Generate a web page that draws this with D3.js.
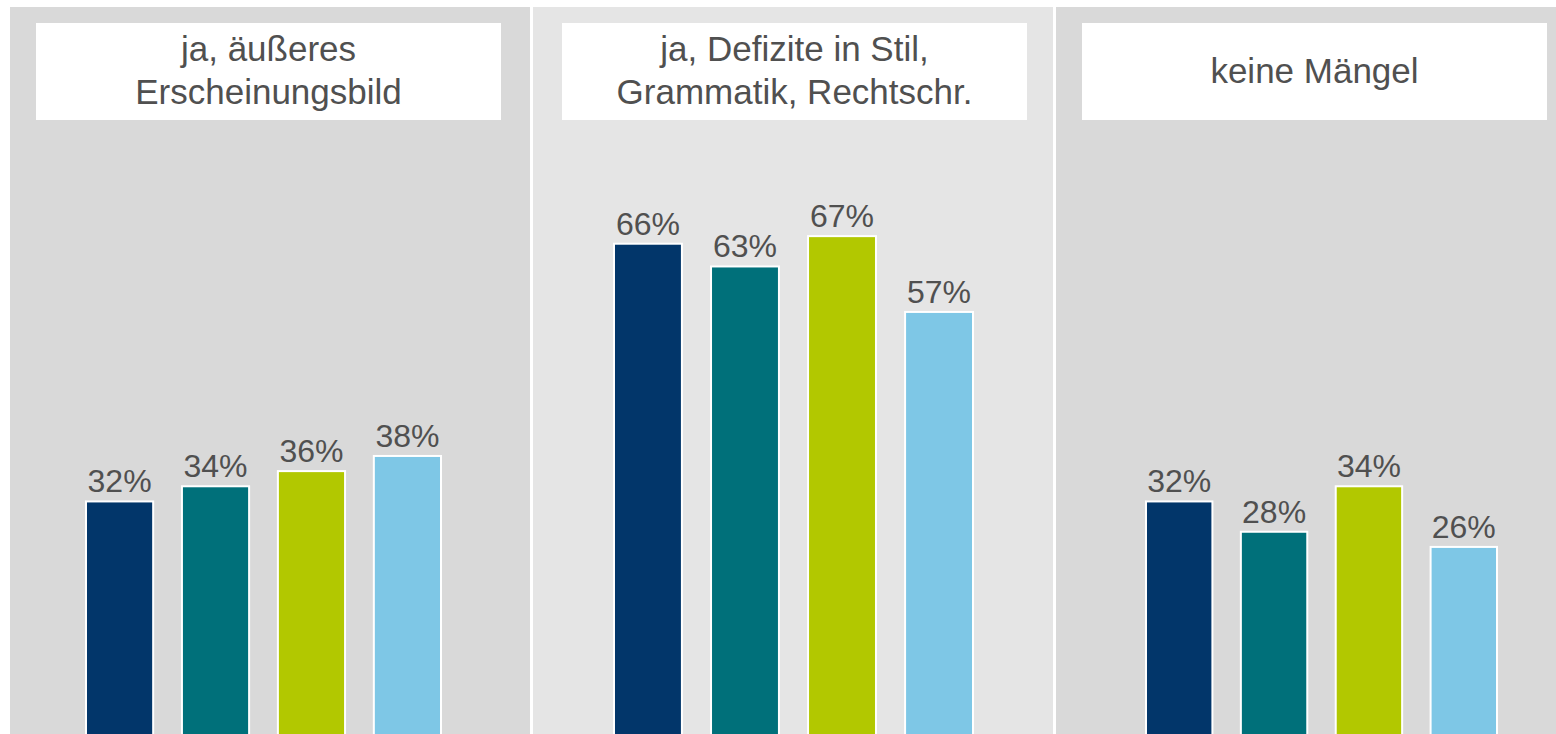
<!DOCTYPE html>
<html>
<head>
<meta charset="utf-8">
<script src="https://cdn.jsdelivr.net/npm/d3@7"></script>
<style>
  body { margin: 0; background: #fff; }
  svg text { font-family: "Liberation Sans", Arial, sans-serif; fill: #505050; }
</style>
</head>
<body>
<svg id="canvas" width="1556" height="734"></svg>
<script>
let panelTitles = [
    ['ja, äußeres', 'Erscheinungsbild'],
    ['ja, Defizite in Stil,', 'Grammatik, Rechtschr.'],
    ['keine Mängel']
];
let groups = ['g1', 'g2', 'g3', 'g4'];
let colors = ['#02366a', '#00707a', '#b2c800', '#7ec7e6'];

let aeusseres = [32, 34, 36, 38];
let defizite = [66, 63, 67, 57];
let keineMaengel = [32, 28, 34, 26];
let panelValues = [aeusseres, defizite, keineMaengel];

let panelFills = ['#d9d9d9', '#e5e5e5', '#d9d9d9'];

let canvas = d3.select('#canvas');

let panelX = d3.scaleBand()
    .domain([0, 1, 2])
    .range([10, 1579]);

let y = d3.scaleLinear()
    .domain([0, 100])
    .range([744, -14]);

// bars and title boxes sit a bit differently in each panel
let barRanges = [[76, 431], [81, 440], [90, 441]];
let boxOffsets = [26, 29, 26];

let drawPanel = (values, i) => {
    let x0 = panelX(i);
    let g = canvas.append('g').attr('transform', 'translate(' + x0 + ',0)');

    g.append('rect')
        .attr('x', 0).attr('y', 7)
        .attr('width', i == 2 ? 1556 - x0 : panelX.bandwidth() - 3).attr('height', 727)
        .attr('fill', panelFills[i]);

    let bx = boxOffsets[i];
    g.append('rect')
        .attr('x', bx).attr('y', 23)
        .attr('width', 465).attr('height', 97)
        .attr('fill', '#fff');

    let lines = panelTitles[i];
    let lh = 43;
    let startY = 70.5 - (lines.length - 1) * lh / 2;
    g.selectAll('text.title')
        .data(lines)
        .enter()
        .append('text')
        .attr('class', 'title')
        .attr('x', bx + 465 / 2)
        .attr('y', (d, k) => startY + k * lh)
        .attr('dy', '0.35em')
        .attr('text-anchor', 'middle')
        .attr('font-size', '35px')
        .text(d => d);

    let x = d3.scaleBand()
        .domain(groups)
        .range(barRanges[i])
        .paddingInner(0.3);

    g.selectAll('rect.bar')
        .data(values)
        .enter()
        .append('rect')
        .attr('class', 'bar')
        .attr('x', (d, k) => x(groups[k]))
        .attr('y', d => y(d))
        .attr('width', x.bandwidth())
        .attr('height', d => y(0) - y(d))
        .attr('fill', (d, k) => colors[k])
        .attr('stroke', '#fff')
        .attr('stroke-width', 2);

    g.selectAll('text.val')
        .data(values)
        .enter()
        .append('text')
        .attr('class', 'val')
        .attr('x', (d, k) => x(groups[k]) + x.bandwidth() / 2)
        .attr('y', d => y(d) - 9)
        .attr('text-anchor', 'middle')
        .attr('font-size', '32px')
        .text(d => d + '%');
};

panelValues.forEach(drawPanel);
</script>
</body>
</html>
